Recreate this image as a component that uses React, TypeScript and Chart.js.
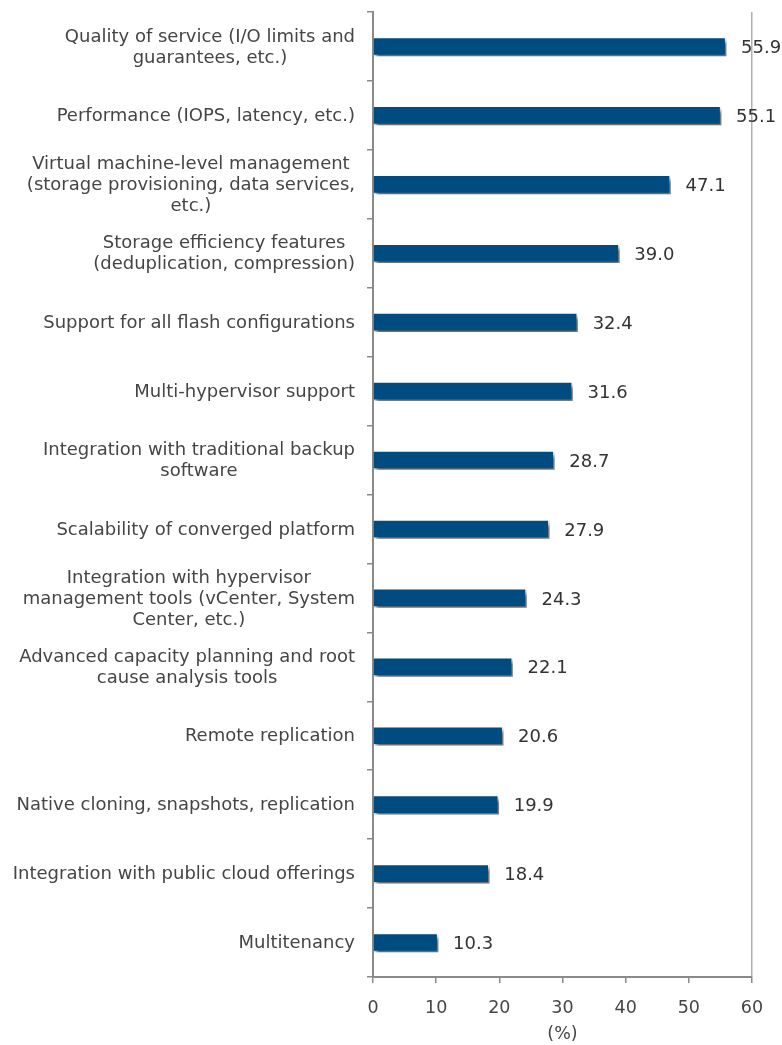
import React, { useEffect, useRef } from "react";
import { Chart, registerables } from "chart.js";

Chart.register(...registerables);

const categories: string[][] = [
  ["Quality of service (I/O limits and", "guarantees, etc.)"],
  ["Performance (IOPS, latency, etc.)"],
  ["Virtual machine-level management", "(storage provisioning, data services,", "etc.)"],
  ["Storage efficiency features", "(deduplication, compression)"],
  ["Support for all flash configurations"],
  ["Multi-hypervisor support"],
  ["Integration with traditional backup", "software"],
  ["Scalability of converged platform"],
  ["Integration with hypervisor", "management tools (vCenter, System", "Center, etc.)"],
  ["Advanced capacity planning and root", "cause analysis tools"],
  ["Remote replication"],
  ["Native cloning, snapshots, replication"],
  ["Integration with public cloud offerings"],
  ["Multitenancy"],
];

const values: number[] = [55.9, 55.1, 47.1, 39.0, 32.4, 31.6, 28.7, 27.9, 24.3, 22.1, 20.6, 19.9, 18.4, 10.3];

const xTicks: number[] = [0, 10, 20, 30, 40, 50, 60];
const xTitle = "(%)";

const FONT = "'DejaVu Sans', sans-serif";
const TEXT = "#454545";
const AXIS = "#8a8a8a";
const BAR = "#004C80";

export default function App() {
  const ref = useRef<HTMLCanvasElement | null>(null);

  useEffect(() => {
    if (!ref.current) return;

    const shadowPlugin = {
      id: "barShadow",
      beforeDatasetDraw(chart: any) {
        const ctx = chart.ctx;
        ctx.save();
        ctx.shadowColor = "rgba(0,0,0,0.6)";
        ctx.shadowBlur = 4;
        ctx.shadowOffsetX = 3;
        ctx.shadowOffsetY = 4;
      },
      afterDatasetDraw(chart: any) {
        chart.ctx.restore();
      },
    };

    const labelPlugin = {
      id: "customLabels",
      afterDraw(chart: any) {
        const ctx = chart.ctx;
        const y = chart.scales.y;
        ctx.save();
        ctx.font = `18px ${FONT}`;
        ctx.fillStyle = TEXT;
        ctx.textBaseline = "middle";
        ctx.textAlign = "center";
        const lh = 21;
        const right = y.right - 18;
        categories.forEach((lines, i) => {
          const cy = y.getPixelForTick(i);
          let maxW = 0;
          lines.forEach((l) => (maxW = Math.max(maxW, ctx.measureText(l).width)));
          const cx = right - maxW / 2;
          lines.forEach((l, k) => {
            ctx.fillText(l, cx, cy + 1 + (k - (lines.length - 1) / 2) * lh);
          });
        });
        // value labels
        ctx.font = `18px ${FONT}`;
        ctx.fillStyle = "#333333";
        ctx.textAlign = "left";
        const meta = chart.getDatasetMeta(0);
        meta.data.forEach((bar: any, i: number) => {
          ctx.fillText(values[i].toFixed(1), bar.x + 15, bar.y + 2);
        });
        ctx.restore();
      },
    };

    const chart = new Chart(ref.current, {
      type: "bar",
      data: {
        labels: categories.map((c) => c.join(" ")),
        datasets: [
          {
            data: values,
            backgroundColor: BAR,
            borderColor: "#ffffff",
            borderWidth: 1.5,
            barThickness: 19,
          },
        ],
      },
      options: {
        indexAxis: "y",
        animation: false,
        responsive: true,
        maintainAspectRatio: false,
        layout: { padding: { top: 11, right: 30, bottom: 0, left: 0 } },
        plugins: {
          legend: { display: false },
          tooltip: { enabled: false },
        },
        scales: {
          x: {
            min: 0,
            max: 60,
            afterBuildTicks(scale: any) {
              scale.ticks = xTicks.map((v) => ({ value: v }));
            },
            afterFit(scale: any) {
              scale.height = 68;
            },
            border: { display: true, color: AXIS, width: 2 },
            grid: {
              drawOnChartArea: true,
              color: (c: any) => (c.tick && c.tick.value === 60 ? "#b0b0b0" : "rgba(0,0,0,0)"),
              tickColor: AXIS,
              tickLength: 6,
              lineWidth: 1.5,
            },
            ticks: {
              color: TEXT,
              font: { family: FONT, size: 17.5 },
              padding: 15,
            },
            title: {
              display: true,
              text: xTitle,
              color: TEXT,
              font: { family: FONT, size: 17.5 },
              padding: { top: 4, bottom: 0 },
            },
          },
          y: {
            afterFit(scale: any) {
              scale.width = 373;
            },
            border: { display: true, color: AXIS, width: 2 },
            grid: {
              drawOnChartArea: false,
              offset: true,
              tickColor: AXIS,
              tickLength: 6,
              lineWidth: 1.5,
            },
            ticks: {
              color: "rgba(0,0,0,0)",
              font: { family: FONT, size: 15 },
            },
          },
        },
      },
      plugins: [shadowPlugin, labelPlugin],
    });

    return () => chart.destroy();
  }, []);

  return (
    <div style={{ position: "absolute", left: 0, top: 0, width: 782, height: 1045 }}>
      <canvas ref={ref} />
    </div>
  );
}
